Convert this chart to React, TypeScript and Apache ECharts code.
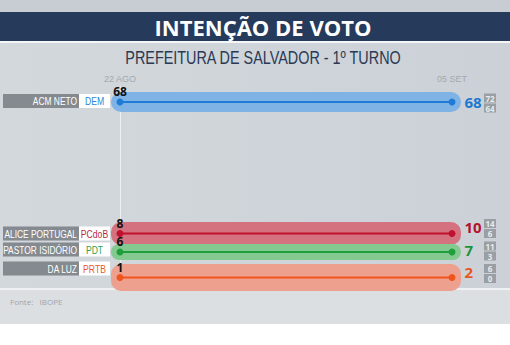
import React, { useEffect, useRef } from "react";
import * as echarts from "echarts";

// ---- data ----
const dates = ["22 AGO", "05 SET"];
const candidates = ["ACM NETO", "ALICE PORTUGAL", "PASTOR ISIDÓRIO", "DA LUZ"];
const parties = ["DEM", "PCdoB", "PDT", "PRTB"];
const votesAug22 = [68, 8, 6, 1];
const votesSep05 = [68, 10, 7, 2];
const rangeHigh = [72, 14, 11, 6];
const rangeLow = [64, 6, 3, 0];
const titleText = "INTENÇÃO DE VOTO";
const subtitleText = "PREFEITURA DE SALVADOR - 1º TURNO";
const sourceText = "Fonte:   IBOPE";

// ---- layout / style ----
const rowLayout = [
  { top: 92, height: 20, labelY: 101, rightDy: 0, boxDy: 1 },
  { top: 222, height: 23, labelY: 233.5, rightDy: -7, boxDy: -5 },
  { top: 244, height: 16, labelY: 249.5, rightDy: -2, boxDy: -1 },
  { top: 264, height: 27, labelY: 268.5, rightDy: -6, boxDy: -4 },
];
const palette = [
  { band: "#7fb3e6", line: "#1f7bd6", text: "#1f78d0", party: "#2a86d6" },
  { band: "#d4737f", line: "#c0112e", text: "#b3122d", party: "#b8283c" },
  { band: "#84c98f", line: "#1f9f3c", text: "#1b9438", party: "#2ea44a" },
  { band: "#eea08f", line: "#f0541d", text: "#e8571b", party: "#ec5b24" },
];
const SANS = "'Liberation Sans', 'Roboto', sans-serif";
const GRID_LEFT = 120;
const GRID_RIGHT = 58;

export default function App() {
  const ref = useRef<HTMLDivElement>(null);

  useEffect(() => {
    if (!ref.current) return;
    const chart = echarts.init(ref.current, undefined, { renderer: "svg" });

    const grids: any[] = [
      { left: GRID_LEFT, right: GRID_RIGHT, top: 86, bottom: 55 },
    ];
    const xAxes: any[] = [
      {
        type: "category",
        gridIndex: 0,
        data: dates,
        boundaryGap: false,
        position: "top",
        axisLine: { show: false },
        axisTick: { show: false },
        axisLabel: { color: "#a3a9af", fontSize: 9, margin: 3, fontFamily: SANS },
        splitLine: {
          show: true,
          interval: (idx: number) => idx === 0,
          lineStyle: { color: "rgba(255,255,255,0.6)", width: 1 },
        },
      },
    ];
    const yAxes: any[] = [{ type: "value", gridIndex: 0, show: false }];
    const series: any[] = [];
    const labelGraphics: any[] = [];

    candidates.forEach((name, i) => {
      const lay = rowLayout[i];
      const pal = palette[i];
      const gi = i + 1;
      grids.push({ left: GRID_LEFT, right: GRID_RIGHT, top: lay.top, height: lay.height });
      xAxes.push({
        type: "category",
        gridIndex: gi,
        data: dates,
        boundaryGap: false,
        show: false,
      });
      yAxes.push({
        type: "category",
        gridIndex: gi,
        data: [name],
        show: false,
      });

      // name + party label boxes
      labelGraphics.push(
        {
          type: "rect",
          z: 6,
          shape: { x: 3, y: lay.labelY - 7, width: 76, height: 14 },
          style: { fill: "rgba(126,131,137,0.92)" },
        },
        {
          type: "rect",
          z: 6,
          shape: { x: 79, y: lay.labelY - 7, width: 31, height: 14 },
          style: { fill: "#ffffff" },
        },
        {
          type: "text",
          z: 7,
          x: 77,
          y: lay.labelY + 0.5,
          scaleX: 0.8,
          style: {
            text: name,
            fill: "#ffffff",
            font: `10.5px ${SANS}`,
            align: "right",
            verticalAlign: "middle",
          },
        },
        {
          type: "text",
          z: 7,
          x: 94.5,
          y: lay.labelY + 0.5,
          scaleX: 0.82,
          style: {
            text: parties[i],
            fill: pal.party,
            font: `10.5px ${SANS}`,
            align: "center",
            verticalAlign: "middle",
          },
        }
      );

      // band
      series.push({
        type: "custom",
        xAxisIndex: gi,
        yAxisIndex: gi,
        z: 1,
        encode: { x: [0, 1], y: 2 },
        data: [[0, 1, 0]],
        renderItem: (params: any, api: any) => {
          const p0 = api.coord([api.value(0), api.value(2)]);
          const p1 = api.coord([api.value(1), api.value(2)]);
          const h = api.size([0, 1])[1];
          return {
            type: "rect",
            shape: {
              x: p0[0] - 9,
              y: p0[1] - h / 2,
              width: p1[0] - p0[0] + 18,
              height: h,
              r: Math.min(h / 2, 10),
            },
            style: { fill: pal.band },
          };
        },
      });

      // line with points and value labels
      series.push({
        type: "line",
        xAxisIndex: gi,
        yAxisIndex: gi,
        z: 3,
        symbol: "circle",
        symbolSize: 7,
        lineStyle: { color: pal.line, width: 2 },
        itemStyle: { color: pal.line },
        data: [
          {
            value: [dates[0], name],
            label: {
              show: true,
              position: "top",
              distance: 1,
              formatter: String(votesAug22[i]),
              color: "#111111",
              fontWeight: "bold",
              fontSize: 12,
              lineHeight: 12,
              fontFamily: "'Open Sans', sans-serif",
            },
          },
          {
            value: [dates[1], name],
            label: {
              show: true,
              position: "right",
              distance: 9,
              offset: [0, lay.rightDy],
              formatter: String(votesSep05[i]),
              color: pal.text,
              fontWeight: "bold",
              fontSize: 15,
              lineHeight: 15,
              fontFamily: "'Open Sans', sans-serif",
            },
          },
        ],
      });

      // range box
      series.push({
        type: "scatter",
        xAxisIndex: gi,
        yAxisIndex: gi,
        z: 3,
        symbolSize: 0,
        silent: true,
        data: [
          {
            value: [dates[1], name],
            label: {
              show: true,
              position: "right",
              distance: 32,
              offset: [0, lay.boxDy],
              formatter: `{a|${rangeHigh[i]}}\n{a|${rangeLow[i]}}`,
              rich: {
                a: {
                  backgroundColor: "#8d9297",
                  color: "#ffffff",
                  width: 12,
                  height: 9,
                  lineHeight: 10,
                  align: "center",
                  fontSize: 8,
                  fontWeight: "bold",
                  fontFamily: "'Open Sans', sans-serif",
                },
              },
            },
          },
        ],
      });
    });

    const option: any = {
      animation: false,
      backgroundColor: "#ffffff",
      graphic: [
        {
          type: "group",
          z: -10,
          children: [
            {
              type: "rect",
              shape: { x: 0, y: 0, width: 510, height: 12 },
              style: { fill: "#c7cdd3" },
              z: -10,
            },
            {
              type: "rect",
              shape: { x: 0, y: 43, width: 510, height: 245 },
              style: {
                fill: new echarts.graphic.LinearGradient(0, 0, 1, 0, [
                  { offset: 0, color: "#d3d8dc" },
                  { offset: 1, color: "#cbd1d7" },
                ]),
              },
              z: -10,
            },
            {
              type: "rect",
              shape: { x: 0, y: 288, width: 510, height: 2 },
              style: { fill: "#eef0f2" },
              z: -10,
            },
            {
              type: "rect",
              shape: { x: 0, y: 290, width: 510, height: 34 },
              style: { fill: "#dcdfe2" },
              z: -10,
            },
          ],
        },
        {
          type: "rect",
          z: 5,
          shape: { x: 0, y: 12, width: 510, height: 29 },
          style: { fill: "#263a5c" },
        },
        {
          type: "rect",
          z: 5,
          shape: { x: 0, y: 41, width: 510, height: 2 },
          style: { fill: "#f4f5f7" },
        },
        {
          type: "text",
          z: 6,
          x: 263,
          y: 27,
          style: {
            text: titleText,
            fill: "#ffffff",
            font: "bold 22px 'Open Sans', sans-serif",
            align: "center",
            verticalAlign: "middle",
          },
        },
        {
          type: "text",
          z: 6,
          x: 263,
          y: 57,
          scaleX: 0.8,
          style: {
            text: subtitleText,
            fill: "#2b3954",
            font: `18px ${SANS}`,
            align: "center",
            verticalAlign: "middle",
          },
        },
        {
          type: "text",
          z: 6,
          x: 10,
          y: 301,
          style: {
            text: sourceText,
            fill: "#9ea4aa",
            font: `8px 'Open Sans', sans-serif`,
            align: "left",
            verticalAlign: "middle",
          },
        },
        ...labelGraphics,
      ],
      grid: grids,
      xAxis: xAxes,
      yAxis: yAxes,
      series,
    };

    chart.setOption(option);
    return () => chart.dispose();
  }, []);

  return (
    <div
      ref={ref}
      style={{ position: "fixed", left: 0, top: 0, width: 510, height: 345 }}
    />
  );
}
